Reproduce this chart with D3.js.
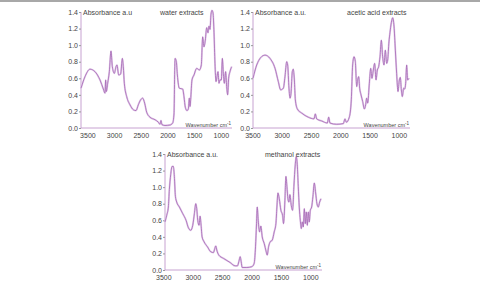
<!DOCTYPE html>
<html>
<head>
<meta charset="utf-8">
<script src="https://cdn.jsdelivr.net/npm/d3@7"></script>
<style>
  body { margin: 0; background: #fff; }
  text { font-family: "Liberation Sans", Arial, sans-serif; fill: #444; }
</style>
</head>
<body>
<svg id="chart" width="480" height="282"></svg>
<script>
"use strict";

// [wavenumber cm-1, absorbance]
var water = [[3620,0.48],[3545,0.62],[3451,0.71],[3358,0.68],[3264,0.58],[3201,0.47],[3170,0.42],[3158,0.58],
  [3145,0.44],[3120,0.54],[3089,0.68],[3058,0.93],[3033,0.74],[2995,0.66],[2964,0.74],[2945,0.76],[2914,0.64],
  [2877,0.65],[2845,0.84],[2827,0.74],[2808,0.54],[2764,0.38],[2702,0.28],[2639,0.22],[2589,0.21],[2546,0.28],
  [2502,0.34],[2464,0.36],[2427,0.30],[2389,0.19],[2327,0.13],[2233,0.10],[2171,0.07],[2139,0.045],[2121,0.09],
  [2102,0.04],[2046,0.03],[1952,0.036],[1902,0.06],[1877,0.17],[1858,0.84],[1833,0.80],[1814,0.64],[1777,0.48],
  [1714,0.47],[1690,0.38],[1665,0.25],[1633,0.21],[1608,0.23],[1590,0.36],[1577,0.26],[1565,0.34],[1540,0.58],
  [1502,0.64],[1452,0.72],[1402,0.70],[1365,0.76],[1340,1.10],[1315,0.98],[1290,1.06],[1265,1.21],[1240,1.15],
  [1221,1.23],[1202,1.19],[1184,1.37],[1165,1.42],[1146,1.39],[1127,1.15],[1109,0.78],[1090,0.56],[1071,0.62],
  [1052,0.68],[1034,0.54],[1015,0.58],[990,0.58],[971,0.84],[952,0.66],[934,0.54],[909,0.68],[890,0.50],
  [871,0.40],[853,0.60],[828,0.68],[796,0.74]]

var acetic = [[3490,0.60],[3427,0.76],[3359,0.85],[3285,0.88],[3200,0.84],[3114,0.72],[3058,0.56],[3018,0.46],
  [2972,0.48],[2944,0.62],[2915,0.80],[2898,0.76],[2876,0.48],[2858,0.36],[2841,0.42],[2819,0.68],[2802,0.71],
  [2784,0.58],[2767,0.34],[2733,0.23],[2659,0.18],[2546,0.13],[2449,0.11],[2426,0.17],[2403,0.11],[2318,0.085],
  [2221,0.06],[2198,0.13],[2176,0.06],[2062,0.045],[1948,0.053],[1920,0.11],[1897,0.07],[1846,0.13],[1812,0.34],
  [1789,0.76],[1766,0.86],[1743,0.80],[1720,0.50],[1703,0.58],[1686,0.62],[1669,0.48],[1646,0.40],[1618,0.32],
  [1589,0.23],[1567,0.28],[1550,0.36],[1532,0.30],[1504,0.54],[1481,0.72],[1459,0.60],[1436,0.70],[1413,0.78],
  [1390,0.58],[1368,0.70],[1345,0.74],[1322,0.86],[1299,1.06],[1277,0.86],[1254,0.76],[1231,0.94],[1208,0.78],
  [1191,0.82],[1169,1.04],[1152,1.15],[1129,1.27],[1106,1.33],[1083,1.23],[1060,0.94],[1038,0.66],[1015,0.44],
  [992,0.58],[975,0.61],[958,0.46],[941,0.38],[918,0.48],[901,0.47],[884,0.54],[867,0.76],[850,0.58],[827,0.60]]

var methanol = [[3472,0.58],[3443,0.66],[3415,0.76],[3398,0.97],[3375,1.15],[3352,1.25],[3330,1.25],[3313,1.13],
  [3295,0.89],[3273,0.82],[3227,0.76],[3170,0.68],[3114,0.60],[3074,0.51],[3034,0.48],[3000,0.54],[2972,0.68],
  [2949,0.80],[2932,0.74],[2915,0.60],[2892,0.54],[2875,0.65],[2858,0.54],[2841,0.40],[2807,0.34],[2750,0.28],
  [2693,0.22],[2648,0.21],[2625,0.26],[2608,0.29],[2591,0.24],[2557,0.18],[2477,0.14],[2364,0.09],[2278,0.05],
  [2239,0.05],[2216,0.10],[2193,0.16],[2176,0.10],[2159,0.03],[2080,0.03],[1994,0.04],[1955,0.08],[1932,0.28],
  [1915,0.56],[1903,0.76],[1886,0.60],[1864,0.46],[1841,0.53],[1818,0.40],[1784,0.32],[1750,0.22],[1733,0.18],
  [1710,0.28],[1682,0.34],[1648,0.36],[1614,0.46],[1585,0.56],[1568,0.76],[1551,0.93],[1528,0.86],[1500,0.72],
  [1472,0.66],[1455,0.56],[1432,0.84],[1415,1.13],[1398,1.01],[1381,0.86],[1364,0.82],[1347,0.91],[1324,0.78],
  [1301,0.72],[1279,1.01],[1256,1.27],[1239,1.37],[1222,1.27],[1205,1.01],[1188,0.76],[1170,0.60],[1153,0.50],
  [1136,0.58],[1119,0.52],[1102,0.74],[1085,0.56],[1068,0.70],[1051,0.54],[1034,0.70],[1017,0.58],[1000,0.72],
  [977,0.76],[955,0.89],[932,1.05],[909,0.93],[887,0.80],[864,0.76],[841,0.82],[818,0.86]]

var xTicks = [3500, 3000, 2500, 2000, 1500, 1000]
var yTicks = [0, 0.2, 0.4, 0.6, 0.8, 1.0, 1.2, 1.4]
var titles = ["water  extracts", "acetic  acid  extracts", "methanol extracts"]
var yLabels = ["Absorbance  a.u", "Absorbance  a.u.", "Absorbance  a.u."]

var svg = d3.select("#chart")

svg.append("rect").attr("x", 0).attr("y", 0).attr("width", 480).attr("height", 2).attr("fill", "#a8a8a8")

var panels = [
  {data: water, domain: [3620, 790], left: 81, right: 232, top: 12, bottom: 128, titleX: 160},
  {data: acetic, domain: [3490, 810], left: 253, right: 410, top: 12, bottom: 128, titleX: 347},
  {data: methanol, domain: [3472, 801], left: 165, right: 322, top: 154, bottom: 270, titleX: 265}
]

function drawPanel(p, i) {
    var x = d3.scaleLinear().domain(p.domain).range([p.left, p.right])
    var y = d3.scaleLinear().domain([0, 1.4]).range([p.bottom, p.top])
    var g = svg.append("g")

    var yAxis = d3.axisLeft(y).tickValues(yTicks).tickSize(2).tickFormat(d3.format(".1f"))
    var yg = g.append("g").attr("transform", "translate(" + p.left + ",0)").call(yAxis)
    yg.select(".domain").attr("stroke", "#c7a2d1").attr("d", "M0," + p.top + "V" + p.bottom)
    yg.selectAll(".tick line").attr("stroke", "#999")
    yg.selectAll(".tick text").attr("x", -3).style("font-size", "7px").style("font-family", "Liberation Sans, Arial")

    var xAxis = d3.axisBottom(x).tickValues(xTicks).tickSize(0).tickFormat(d3.format("d"))
    var xg = g.append("g").attr("transform", "translate(0," + p.bottom + ")").call(xAxis)
    xg.select(".domain").attr("stroke", "#c7a2d1").attr("d", "M" + p.left + ",0H" + p.right)
    xg.selectAll(".tick text").attr("y", 5).style("font-size", "7px").style("font-family", "Liberation Sans, Arial")

    var line = d3.line().x(d => x(d[0])).y(d => y(d[1])).curve(d3.curveMonotoneX)
    g.append("path").datum(p.data).attr("fill", "none").attr("stroke", "#e3cdea")
        .attr("stroke-width", 1.9).attr("stroke-linejoin", "round").attr("d", line)
    g.append("path").datum(p.data).attr("fill", "none").attr("stroke", "#a466b4")
        .attr("stroke-width", 0.8).attr("stroke-linejoin", "round").attr("d", line)

    g.append("text").attr("x", p.left + 2).attr("y", p.top + 2.5)
        .style("font-size", "7px").text(yLabels[i])
    g.append("text").attr("x", p.titleX).attr("y", p.top + 2.5)
        .style("font-size", "7px").text(titles[i])

    var wl = g.append("text").attr("x", p.right - 1).attr("y", p.bottom - 1.5).attr("text-anchor", "end")
        .style("font-size", "5.5px")
    wl.append("tspan").text("Wavenumber cm")
    wl.append("tspan").attr("dy", -2).style("font-size", "4.5px").text("-1")
}

panels.forEach(drawPanel)
</script>
</body>
</html>
